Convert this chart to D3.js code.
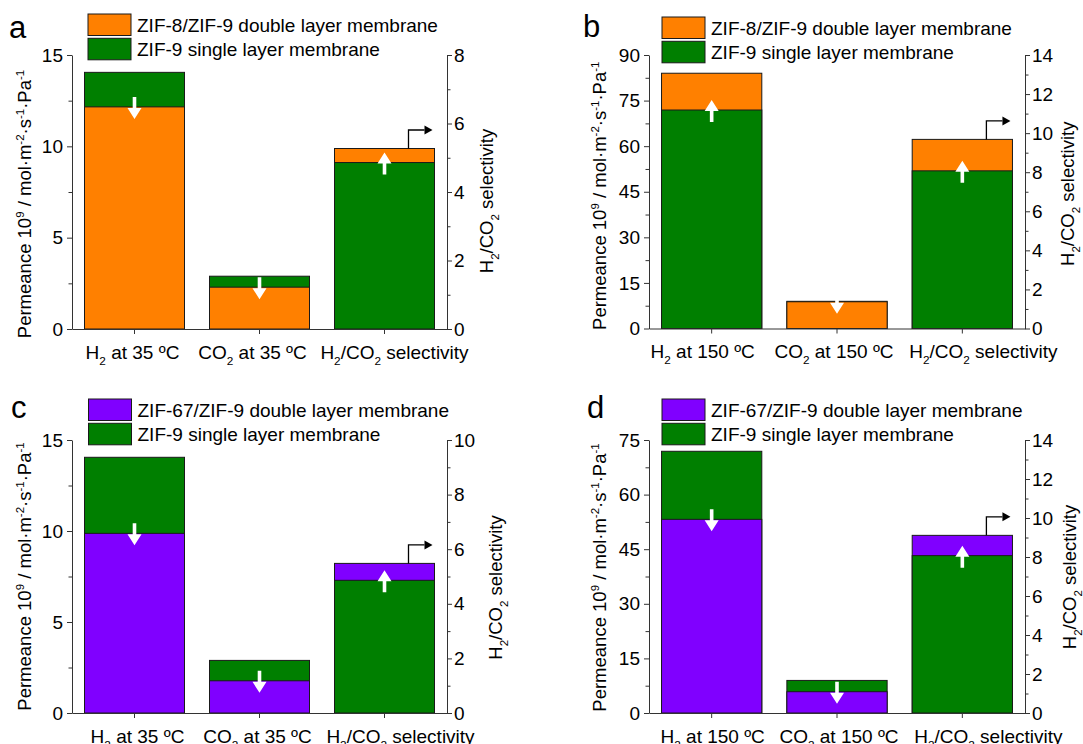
<!DOCTYPE html>
<html>
<head>
<meta charset="utf-8">
<script src="https://cdn.jsdelivr.net/npm/d3@7"></script>
<style>
  body { margin: 0; background: #fff; }
  svg { display: block; }
  text { font-family: "Liberation Sans", Arial, sans-serif; fill: #000; }
</style>
</head>
<body>
<svg id="chart" width="1083" height="744"></svg>
<script>
// ---- data ----------------------------------------------------------------
// "_{...}" marks a subscript, "^{...}" a superscript
const categories35 = ["H_{2} at 35 ºC", "CO_{2} at 35 ºC", "H_{2}/CO_{2} selectivity"];
const categories150 = ["H_{2} at 150 ºC", "CO_{2} at 150 ºC", "H_{2}/CO_{2} selectivity"];

// permeance (10^9 mol m-2 s-1 Pa-1) for H2 and CO2, then H2/CO2 selectivity
const zif9Single35 = [14.05, 2.89, 4.86];
const zif9Single150 = [71.9, 8.95, 8.07];
const zif8Double35 = [12.16, 2.29, 5.27];
const zif8Double150 = [84.0, 8.8, 9.68];
const zif67Double35 = [9.87, 1.77, 5.48];
const zif67Double150 = [53.2, 5.85, 9.11];

const permTicks35 = [0, 5, 10, 15];
const permTicks150b = [0, 15, 30, 45, 60, 75, 90];
const permTicks150d = [0, 15, 30, 45, 60, 75];
const selTicksA = [0, 2, 4, 6, 8];
const selTicksB = [0, 2, 4, 6, 8, 10, 12, 14];
const selTicksC = [0, 2, 4, 6, 8, 10];
const selTicksD = [0, 2, 4, 6, 8, 10, 12, 14];

const singleLabel = "ZIF-9 single layer membrane";
const zif8Label = "ZIF-8/ZIF-9 double layer membrane";
const zif67Label = "ZIF-67/ZIF-9 double layer membrane";
const permeanceTitle = "Permeance 10^{9} / mol·m^{-2}·s^{-1}·Pa^{-1}";
const selectivityTitle = "H_{2}/CO_{2} selectivity";

// ---- styles / layout -------------------------------------------------------
const GREEN = "#007F00", ORANGE = "#FF8000", PURPLE = "#8000FF";
const AXIS = "#333";
const FS = 19;
const TITLE_FS = 18.5;

const panels = [
  { letter: "a", cats: categories35, single: zif9Single35, dbl: zif8Double35, dblColor: ORANGE, dblLabel: zif8Label,
    leftTicks: permTicks35, rightTicks: selTicksA,
    x0: 72, x1: 447, yTop: 55, y0: 329, legendX: 88, legendY: 14, letterX: 9, letterY: 38,
    labelDx: [-2, -7, 10], tLdx: -47, tLdy: 12, tRdx: 40, tRdy: 9 },
  { letter: "b", cats: categories150, single: zif9Single150, dbl: zif8Double150, dblColor: ORANGE, dblLabel: zif8Label,
    leftTicks: permTicks150b, rightTicks: selTicksB,
    x0: 649, x1: 1025, yTop: 55, y0: 328.5, legendX: 662, legendY: 17, letterX: 583, letterY: 37,
    labelDx: [-9, -3, 21], tLdx: -49, tLdy: 4, tRdx: 43, tRdy: 2 },
  { letter: "c", cats: categories35, single: zif9Single35, dbl: zif67Double35, dblColor: PURPLE, dblLabel: zif67Label,
    leftTicks: permTicks35, rightTicks: selTicksC,
    x0: 72, x1: 447, yTop: 440, y0: 713, legendX: 88.5, legendY: 399, letterX: 11, letterY: 418,
    labelDx: [3, -2, 16], tLdx: -47, tLdy: 0, tRdx: 49, tRdy: 11 },
  { letter: "d", cats: categories150, single: zif9Single150, dbl: zif67Double150, dblColor: PURPLE, dblLabel: zif67Label,
    leftTicks: permTicks150d, rightTicks: selTicksD,
    x0: 649, x1: 1025, yTop: 440, y0: 713, legendX: 662, legendY: 399, letterX: 587, letterY: 418,
    labelDx: [1, 2, 26], tLdx: -49, tLdy: 1, tRdx: 45, tRdy: 0.5 }
];

const svg = d3.select("#chart");

// writes a string with _{sub} / ^{sup} markup into a text element as tspans
function rich(sel, str, fs) {
  const parts = str.split(/(\^\{[^}]*\}|_\{[^}]*\})/).filter(s => s.length);
  let shift = 0;
  parts.forEach(s => {
    let target = 0, content = s, size = null;
    if (s.startsWith("^{")) { target = -0.42 * fs; content = s.slice(2, -1); size = 0.62 * fs; }
    else if (s.startsWith("_{")) { target = 0.32 * fs; content = s.slice(2, -1); size = 0.62 * fs; }
    const t = sel.append("tspan").text(content).attr("dy", target - shift);
    if (size) t.attr("font-size", size);
    shift = target;
  });
}

function midpoints(ticks) {
  return d3.pairs(ticks).map(([a, b]) => (a + b) / 2);
}

function styleAxis(g) {
  g.selectAll("path, line").attr("stroke", AXIS).attr("stroke-width", 1);
  g.selectAll("text").attr("font-size", FS).attr("fill", "#000")
    .style("font-family", '"Liberation Sans", Arial, sans-serif');
}

function drawPanel(p) {
  const g = svg.append("g");
  const x = d3.scaleBand().domain(p.cats).range([p.x0, p.x1]).paddingInner(0.2).paddingOuter(0.1);
  const yL = d3.scaleLinear().domain([0, d3.max(p.leftTicks)]).range([p.y0, p.yTop]);
  const yR = d3.scaleLinear().domain([0, d3.max(p.rightTicks)]).range([p.y0, p.yTop]);
  const last = p.cats.length - 1;
  const scaleOf = i => (i === last ? yR : yL);

  // overlapping bars: the taller one behind, the shorter one in front
  const rows = p.cats.map((c, i) => ({ c, i, y: scaleOf(i), single: p.single[i], dbl: p.dbl[i] }));
  rows.forEach(r => {
    const items = [{ v: r.single, color: GREEN }, { v: r.dbl, color: p.dblColor }].sort((a, b) => b.v - a.v);
    g.selectAll(null).data(items).join("rect")
      .attr("x", x(r.c)).attr("width", x.bandwidth())
      .attr("y", d => r.y(d.v)).attr("height", d => p.y0 - r.y(d.v))
      .attr("fill", d => d.color).attr("stroke", "#1a1a1a").attr("stroke-width", 1);
  });

  // white arrows: change from single layer to double layer membrane
  rows.forEach(r => {
    const cx = x(r.c) + x.bandwidth() / 2;
    const ys = r.y(r.single), yd = r.y(r.dbl);
    const boundary = Math.max(ys, yd);
    const down = yd > ys;
    const top = boundary - 10, bottom = boundary + 12;
    const tip = down ? bottom : top, tail = down ? top : bottom;
    const dir = down ? 1 : -1;
    const headLen = 11, headHalf = 7, shaftHalf = 1.8;
    const base = tip - dir * headLen;
    const path = d3.path();
    path.moveTo(cx - shaftHalf, tail);
    path.lineTo(cx - shaftHalf, base);
    path.lineTo(cx - headHalf, base);
    path.lineTo(cx, tip);
    path.lineTo(cx + headHalf, base);
    path.lineTo(cx + shaftHalf, base);
    path.lineTo(cx + shaftHalf, tail);
    path.closePath();
    g.append("path").attr("d", path.toString()).attr("fill", "#fff");
  });

  // black pointer from the selectivity bar to the right axis
  {
    const r = rows[last];
    const cx = x(r.c) + x.bandwidth() / 2;
    const yTopBar = r.y(Math.max(r.single, r.dbl));
    const sx = cx + x.bandwidth() * 0.24, sy = yTopBar - 18.5, ex = cx + x.bandwidth() * 0.4;
    g.append("path").attr("d", `M${sx},${yTopBar}V${sy}H${ex}`)
      .attr("fill", "none").attr("stroke", "#000").attr("stroke-width", 1.3);
    g.append("path").attr("d", `M${ex},${sy - 4.5}L${ex + 8},${sy}L${ex},${sy + 4.5}Z`).attr("fill", "#000");
  }

  // axes
  const gl = g.append("g").attr("transform", `translate(${p.x0},0)`)
    .call(d3.axisLeft(yL).tickValues(p.leftTicks).tickSize(5).tickSizeOuter(0).tickPadding(4));
  styleAxis(gl);
  const glm = g.append("g").attr("transform", `translate(${p.x0},0)`)
    .call(d3.axisLeft(yL).tickValues(midpoints(p.leftTicks)).tickSize(3.5).tickFormat(""));
  glm.select(".domain").remove(); styleAxis(glm);

  const gr = g.append("g").attr("transform", `translate(${p.x1},0)`)
    .call(d3.axisRight(yR).tickValues(p.rightTicks).tickSize(5).tickSizeOuter(0).tickPadding(2));
  styleAxis(gr);
  const grm = g.append("g").attr("transform", `translate(${p.x1},0)`)
    .call(d3.axisRight(yR).tickValues(midpoints(p.rightTicks)).tickSize(3.5).tickFormat(""));
  grm.select(".domain").remove(); styleAxis(grm);

  const gb = g.append("g").attr("transform", `translate(0,${p.y0})`)
    .call(d3.axisBottom(x).tickSize(5).tickSizeOuter(0).tickFormat(""));
  styleAxis(gb);
  p.cats.forEach((c, i) => {
    const t = g.append("text").attr("x", x(c) + x.bandwidth() / 2 + p.labelDx[i]).attr("y", p.y0 + 29.5)
      .attr("text-anchor", "middle").attr("font-size", FS);
    rich(t, c, FS);
  });

  // axis titles
  const midY = (p.yTop + p.y0) / 2;
  const tl = g.append("text").attr("text-anchor", "middle").attr("font-size", TITLE_FS)
    .attr("transform", `translate(${p.x0 + p.tLdx + 0.35 * TITLE_FS},${midY + p.tLdy}) rotate(-90)`);
  rich(tl, permeanceTitle, TITLE_FS);
  const tr = g.append("text").attr("text-anchor", "middle").attr("font-size", TITLE_FS)
    .attr("transform", `translate(${p.x1 + p.tRdx + 0.35 * TITLE_FS},${midY + p.tRdy}) rotate(-90)`);
  rich(tr, selectivityTitle, TITLE_FS);

  // legend
  const legend = [{ label: p.dblLabel, color: p.dblColor }, { label: singleLabel, color: GREEN }];
  const lg = g.append("g").attr("transform", `translate(${p.legendX},${p.legendY})`);
  const item = lg.selectAll("g").data(legend).join("g").attr("transform", (d, i) => `translate(0,${i * 24.3})`);
  item.append("rect").attr("width", 43).attr("height", 21.5)
    .attr("fill", d => d.color).attr("stroke", "#1a1a1a").attr("stroke-width", 1);
  item.append("text").attr("x", 49).attr("y", 17.5).attr("font-size", FS).text(d => d.label);

  // panel letter
  g.append("text").attr("x", p.letterX).attr("y", p.letterY).attr("font-size", 31).text(p.letter);
}

panels.forEach(drawPanel);
</script>
</body>
</html>
